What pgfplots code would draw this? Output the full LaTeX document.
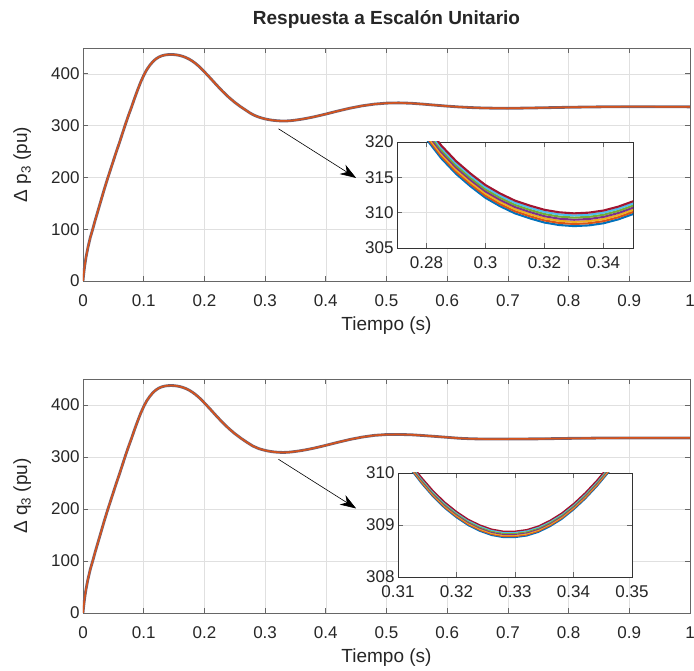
\documentclass[border=0pt]{standalone}
\usepackage{fontspec}
\setmainfont{Liberation Sans}
\usepackage{pgfplots}
\pgfplotsset{compat=1.18}
\usepackage{pgfplotstable}
\usetikzlibrary{arrows.meta}

\definecolor{mBlue}{rgb}{0,0.447,0.741}
\definecolor{mOrange}{rgb}{0.85,0.325,0.098}
\definecolor{mYellow}{rgb}{0.929,0.694,0.125}
\definecolor{mPurple}{rgb}{0.494,0.184,0.556}
\definecolor{mGreen}{rgb}{0.466,0.674,0.188}
\definecolor{mCyan}{rgb}{0.301,0.745,0.933}
\definecolor{mRed}{rgb}{0.635,0.078,0.184}
\definecolor{axgray}{gray}{0.4}
\definecolor{gridgray}{gray}{0.88}
\definecolor{txt}{gray}{0.15}
\definecolor{under}{rgb}{0.45,0.38,0.45}

\pgfplotstableread{
t v
0 0
0.001 12
0.002 22
0.003 31
0.005 46
0.008 64
0.012 84
0.016 100
0.020 117
0.025 137
0.030 157
0.035 177
0.040 196
0.045 214
0.050 232
0.055 250
0.060 267
0.065 285
0.070 303
0.075 320
0.080 336
0.085 353
0.090 369
0.095 384
0.100 397
0.105 408
0.110 416.5
0.115 423.5
0.120 428.8
0.125 432.5
0.130 435.0
0.135 436.5
0.140 437.2
0.145 437.4
0.150 437.2
0.155 436.5
0.160 435.3
0.165 433.6
0.170 431.3
0.175 428.4
0.180 424.8
0.185 420.5
0.190 415.6
0.195 410.1
0.200 404.0
0.210 391.5
0.220 378.6
0.230 366.2
0.240 355.0
0.250 345.0
0.260 336.3
0.270 328.5
0.275 324.6
0.280 321.3
0.285 318.6
0.290 316.4
0.295 314.6
0.300 313.0
0.305 311.8
0.310 310.8
0.315 310.1
0.320 309.5
0.325 309.15
0.330 309.0
0.335 309.1
0.340 309.4
0.345 309.95
0.350 310.7
0.360 312.4
0.370 314.5
0.380 316.9
0.390 319.6
0.400 322.4
0.420 328.3
0.440 333.8
0.460 338.3
0.480 341.6
0.500 343.5
0.520 344.0
0.540 343.3
0.560 341.6
0.580 339.6
0.600 337.7
0.620 336.1
0.640 334.9
0.660 334.1
0.680 333.7
0.700 333.6
0.720 333.8
0.750 334.4
0.800 335.5
0.850 336.3
0.900 336.6
0.950 336.5
1.000 336.3
}\mainP

\pgfplotstableread{
t v
0 0
0.001 12
0.002 22
0.003 31
0.005 46
0.008 64
0.012 84
0.016 100
0.020 117
0.025 137
0.030 157
0.035 177
0.040 196
0.045 214
0.050 232
0.055 250
0.060 267
0.065 285
0.070 303
0.075 320
0.080 336
0.085 353
0.090 369
0.095 384
0.100 397
0.105 408
0.110 416.5
0.115 423.5
0.120 428.8
0.125 432.5
0.130 435.0
0.135 436.5
0.140 437.2
0.145 437.4
0.150 437.2
0.155 436.5
0.160 435.3
0.165 433.6
0.170 431.3
0.175 428.4
0.180 424.8
0.185 420.5
0.190 415.6
0.195 410.1
0.200 404.0
0.210 391.5
0.220 378.6
0.230 366.2
0.240 355.0
0.250 345.0
0.260 336.2
0.270 328.3
0.280 321.0
0.290 315.9
0.300 312.7
0.305 311.5
0.310 310.48
0.314 309.86
0.318 309.38
0.322 309.05
0.326 308.86
0.330 308.82
0.334 308.92
0.338 309.17
0.342 309.56
0.346 310.07
0.350 310.7
0.360 312.4
0.370 314.5
0.380 316.9
0.390 319.6
0.400 322.4
0.420 328.3
0.440 333.8
0.460 338.3
0.480 341.6
0.500 343.2
0.520 343.3
0.540 342.8
0.560 341.3
0.580 339.6
0.600 337.8
0.620 336.0
0.640 335.0
0.660 334.6
0.700 334.6
0.750 334.9
0.800 335.8
0.850 336.4
0.900 336.6
1.000 336.6
}\mainQ

\pgfplotstableread{
t a b c d e f g
0.270 327.6 327.9 328.2 328.5 328.8 329.1 329.4
0.275 323.7 324.0 324.3 324.6 324.9 325.2 325.5
0.280 320.4 320.7 321.0 321.3 321.6 321.9 322.2
0.285 317.7 318.0 318.3 318.6 318.9 319.2 319.5
0.290 315.5 315.8 316.1 316.4 316.7 317.0 317.3
0.295 313.7 314.0 314.3 314.6 314.9 315.2 315.5
0.300 312.1 312.4 312.7 313.0 313.3 313.6 313.9
0.305 310.9 311.2 311.5 311.8 312.1 312.4 312.7
0.310 309.9 310.2 310.5 310.8 311.1 311.4 311.7
0.315 309.2 309.5 309.8 310.1 310.4 310.7 311.0
0.320 308.6 308.9 309.2 309.5 309.8 310.1 310.4
0.325 308.25 308.55 308.85 309.15 309.45 309.75 310.05
0.330 308.1 308.4 308.7 309.0 309.3 309.6 309.9
0.335 308.2 308.5 308.8 309.1 309.4 309.7 310.0
0.340 308.5 308.8 309.1 309.4 309.7 310.0 310.3
0.345 309.05 309.35 309.65 309.95 310.25 310.55 310.85
0.350 309.8 310.1 310.4 310.7 311.0 311.3 311.6
0.355 310.7 311.0 311.3 311.6 311.9 312.2 312.5
}\zoomP

\pgfplotstableread{
t a b c d e f g
0.306 311.19 311.21 311.23 311.25 311.27 311.29 311.31
0.308 310.78 310.80 310.82 310.84 310.86 310.88 310.90
0.310 310.42 310.44 310.46 310.48 310.50 310.52 310.54
0.312 310.09 310.11 310.13 310.15 310.17 310.19 310.21
0.314 309.80 309.82 309.84 309.86 309.88 309.90 309.92
0.316 309.54 309.56 309.58 309.60 309.62 309.64 309.66
0.318 309.32 309.34 309.36 309.38 309.40 309.42 309.44
0.320 309.14 309.16 309.18 309.20 309.22 309.24 309.26
0.322 308.99 309.01 309.03 309.05 309.07 309.09 309.11
0.324 308.88 308.90 308.92 308.94 308.96 308.98 309.00
0.326 308.80 308.82 308.84 308.86 308.88 308.90 308.92
0.328 308.76 308.78 308.80 308.82 308.84 308.86 308.88
0.330 308.76 308.78 308.80 308.82 308.84 308.86 308.88
0.332 308.79 308.81 308.83 308.85 308.87 308.89 308.91
0.334 308.86 308.88 308.90 308.92 308.94 308.96 308.98
0.336 308.97 308.99 309.01 309.03 309.05 309.07 309.09
0.338 309.11 309.13 309.15 309.17 309.19 309.21 309.23
0.340 309.29 309.31 309.33 309.35 309.37 309.39 309.41
0.342 309.50 309.52 309.54 309.56 309.58 309.60 309.62
0.344 309.74 309.76 309.78 309.80 309.82 309.84 309.86
0.346 310.01 310.03 310.05 310.07 310.09 310.11 310.13
0.348 310.31 310.33 310.35 310.37 310.39 310.41 310.43
0.350 310.64 310.66 310.68 310.70 310.72 310.74 310.76
0.352 311.00 311.02 311.04 311.06 311.08 311.10 311.12
}\zoomQ

\pgfplotsset{
  matlab/.style={
    scale only axis,
    axis line style={axgray, line width=0.8pt},
    every tick/.style={axgray, line width=0.8pt},
    major tick length=5pt,
    tick align=inside,
    xtick pos=both, ytick pos=both,
    grid=major,
    major grid style={gridgray, line width=0.6pt},
    tick label style={font=\fontsize{17}{20}\selectfont, text=txt},
    label style={font=\fontsize{19}{22}\selectfont, text=txt},
    /pgf/number format/assume math mode=true,
    axis background/.style={fill=white},
    clip=true,
  },
  mainax/.style={
    matlab,
    anchor=south west,
    width=607pt,
    xmin=0, xmax=1, ymin=0, ymax=450,
    xtick={0,0.1,...,1.0},
    xticklabels={0,0.1,0.2,0.3,0.4,0.5,0.6,0.7,0.8,0.9,1},
    xticklabel style={yshift=-10pt},
    ytick={0,100,200,300,400},
    xlabel={Tiempo (s)},
    xlabel style={at={(axis description cs:0.5,-0.19)}, anchor=center},
  },
  insetax/.style={
    matlab,
    anchor=south west,
    xticklabel style={yshift=-5pt},
    axis line style={black!80, line width=0.8pt},
  },
}

\begin{document}
\begin{tikzpicture}
\path[use as bounding box] (0pt,0pt) rectangle (694pt,671pt);

% ---------- top main axis ----------
\begin{axis}[mainax, at={(83pt,390pt)}, height=233pt,
  ylabel={Δ p\textsubscript{3} (pu)},
  ylabel style={at={(axis description cs:-0.1,0.5)}, anchor=center},
  title={Respuesta a Escalón Unitario},
  title style={at={(axis description cs:0.5,1.095)}, anchor=center,
    font=\fontsize{19}{22}\selectfont\bfseries, text=txt},
]
\addplot[under, line width=2.8pt, no marks] table[x=t,y=v]{\mainP};
\addplot[mOrange, line width=1.5pt, no marks] table[x=t,y=v]{\mainP};
\draw[black, line width=0.6pt, -{Stealth[length=16pt, width=11pt, inset=5pt]}]
  (axis cs:0.322,294) -- (axis cs:0.45,199);
\end{axis}

% ---------- top inset ----------
\begin{axis}[insetax, at={(397pt,423pt)}, width=236pt, height=106pt,
  xmin=0.27, xmax=0.35, ymin=305, ymax=320,
  xtick={0.28,0.3,0.32,0.34}, xticklabels={0.28,0.3,0.32,0.34},
  ytick={305,310,315,320},
]
\addplot[mBlue, line width=2.1pt, no marks] table[x=t,y=a]{\zoomP};
\addplot[mOrange, line width=2.1pt, no marks] table[x=t,y=b]{\zoomP};
\addplot[mYellow, line width=2.1pt, no marks] table[x=t,y=c]{\zoomP};
\addplot[mPurple, line width=2.1pt, no marks] table[x=t,y=d]{\zoomP};
\addplot[mGreen, line width=2.1pt, no marks] table[x=t,y=e]{\zoomP};
\addplot[mCyan, line width=2.1pt, no marks] table[x=t,y=f]{\zoomP};
\addplot[mRed, line width=2.1pt, no marks] table[x=t,y=g]{\zoomP};
\end{axis}

% ---------- bottom main axis ----------
\begin{axis}[mainax, at={(83pt,58pt)}, height=234pt,
  ylabel={Δ q\textsubscript{3} (pu)},
  ylabel style={at={(axis description cs:-0.1,0.5)}, anchor=center},
]
\addplot[under, line width=2.8pt, no marks] table[x=t,y=v]{\mainQ};
\addplot[mOrange, line width=1.5pt, no marks] table[x=t,y=v]{\mainQ};
\draw[black, line width=0.6pt, -{Stealth[length=16pt, width=11pt, inset=5pt]}]
  (axis cs:0.322,295.6) -- (axis cs:0.45,201);
\end{axis}

% ---------- bottom inset ----------
\begin{axis}[insetax, at={(398pt,94pt)}, width=234pt, height=104pt,
  xmin=0.31, xmax=0.35, ymin=308, ymax=310,
  xtick={0.31,0.32,0.33,0.34,0.35}, xticklabels={0.31,0.32,0.33,0.34,0.35},
  ytick={308,309,310},
]
\addplot[mBlue, line width=1.3pt, no marks] table[x=t,y=a]{\zoomQ};
\addplot[mOrange, line width=1.3pt, no marks] table[x=t,y=b]{\zoomQ};
\addplot[mYellow, line width=1.3pt, no marks] table[x=t,y=c]{\zoomQ};
\addplot[mPurple, line width=1.3pt, no marks] table[x=t,y=d]{\zoomQ};
\addplot[mGreen, line width=1.3pt, no marks] table[x=t,y=e]{\zoomQ};
\addplot[mCyan, line width=1.3pt, no marks] table[x=t,y=f]{\zoomQ};
\addplot[mRed, line width=1.3pt, no marks] table[x=t,y=g]{\zoomQ};
\end{axis}
\end{tikzpicture}
\end{document}
